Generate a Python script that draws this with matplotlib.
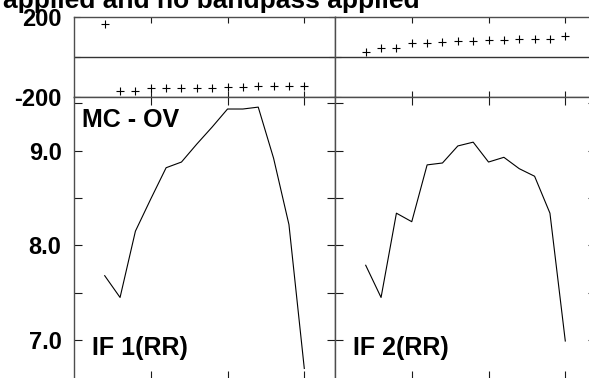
import numpy as np
import matplotlib
matplotlib.use('Agg')
import matplotlib.pyplot as plt

plt.rcParams['font.family'] = ['Liberation Sans', 'DejaVu Sans']
plt.rcParams['font.weight'] = 'bold'

# channel numbers
chan = [2, 3, 4, 5, 6, 7, 8, 9, 10, 11, 12, 13, 14, 15]

# top panels (phase-like, -200..200)
top_if1 = [163, -172, -172, -158, -158, -157, -155, -155, -150, -150, -148, -148, -148, -147]
top_if2 = [25, 42, 45, 67, 70, 73, 77, 78, 83, 85, 87, 90, 90, 103]

# bottom panels (amplitude)
amp_if1 = [7.68, 7.45, 8.15, 8.49, 8.82, 8.88, 9.07, 9.25, 9.44, 9.44, 9.46, 8.92, 8.22, 6.70]
amp_if2 = [7.79, 7.45, 8.34, 8.25, 8.85, 8.87, 9.05, 9.09, 8.88, 8.93, 8.81, 8.73, 8.34, 6.99]

top_ticks = [-200, 0, 200]
top_labels = ['-200', '', '200']
amp_ticks = [7.0, 7.5, 8.0, 8.5, 9.0, 9.5]
amp_labels = ['7.0', '', '8.0', '', '9.0', '']
x_ticks = [5, 10, 15]

W, H = 589.0, 378.0
fig = plt.figure(figsize=(5.89, 3.78), dpi=100)

def px_axes(x0, y0, x1, y1):
    # pixel box (top-left origin) -> figure axes
    return fig.add_axes([x0 / W, 1 - y1 / H, (x1 - x0) / W, (y1 - y0) / H])

spine_col = '0.3'

def style(ax, ticklen):
    for s in ax.spines.values():
        s.set_color(spine_col)
        s.set_linewidth(1.0)
    ax.tick_params(direction='in', top=True, right=True, length=ticklen,
                   width=0.8, color='0.1', labelsize=17, pad=9)
    ax.set_xticks(x_ticks)
    ax.set_xticklabels([])
    ax.set_xlim(0, 17)

ax_t1 = px_axes(74, 16.7, 335, 96.7)
ax_t2 = px_axes(335, 16.7, 596, 96.7)
ax_b1 = px_axes(74, 96.7, 335, 379)
ax_b2 = px_axes(335, 96.7, 596, 379)

for ax, d in [(ax_t1, top_if1), (ax_t2, top_if2)]:
    style(ax, 4.5)
    ax.plot(chan, d, '+', color='black', ms=6, mew=0.8)
    ax.axhline(0, color='0.2', lw=1.0)
    ax.set_ylim(-200, 200)
    ax.set_yticks(top_ticks)
    ax.set_yticklabels(top_labels)

for ax, d in [(ax_b1, amp_if1), (ax_b2, amp_if2)]:
    style(ax, 6)
    ax.plot(chan, d, '-', color='black', lw=0.8)
    ax.set_ylim(6.589, 9.570)
    ax.set_yticks(amp_ticks)
    ax.set_yticklabels(amp_labels)

for ax in [ax_t2, ax_b2]:
    ax.set_yticklabels([])

for lab in ax_t1.get_yticklabels() + ax_b1.get_yticklabels():
    lab.set_fontweight('bold')

ax_b1.text(0.031, 0.893, 'MC - OV', transform=ax_b1.transAxes, fontsize=18,
           fontweight='bold', va='baseline', ha='left')
ax_b1.text(0.069, 0.085, 'IF 1(RR)', transform=ax_b1.transAxes, fontsize=18,
           fontweight='bold', va='baseline', ha='left')
ax_b2.text(0.069, 0.085, 'IF 2(RR)', transform=ax_b2.transAxes, fontsize=18,
           fontweight='bold', va='baseline', ha='left')

fig.text(420 / W, 1 - 8 / H, 'applied and no bandpass applied', fontsize=19,
         fontweight='bold', ha='right', va='baseline')

fig.savefig('out.png', dpi=100)
